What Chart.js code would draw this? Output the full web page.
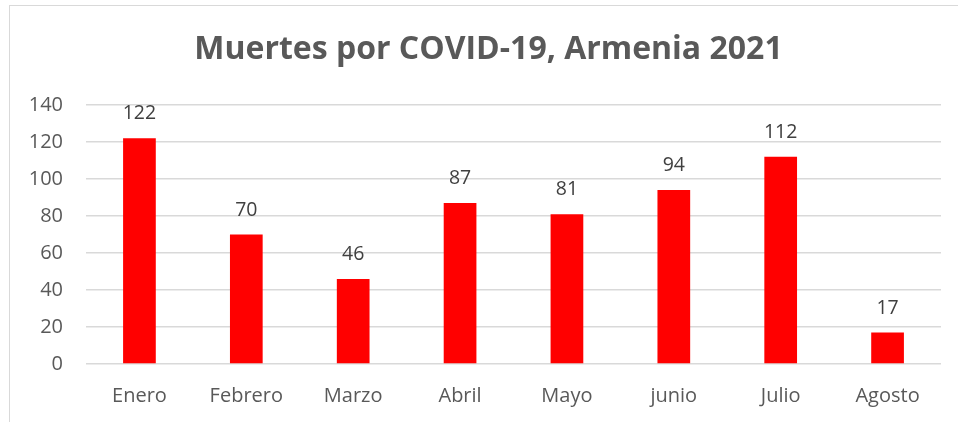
<!DOCTYPE html>
<html>
<head>
<meta charset="utf-8">
<script src="https://cdn.jsdelivr.net/npm/chart.js@4.4.1/dist/chart.umd.min.js"></script>
<style>
  html, body { margin: 0; padding: 0; background: #fff; }
  #wrap { position: relative; width: 958px; height: 422px; overflow: hidden; }
  #frame { position: absolute; left: 9px; top: 5px; width: 1000px; height: 500px; border: 1.5px solid #d9d9d9; box-sizing: border-box; }
  canvas { position: absolute; left: 0; top: 0; }
</style>
</head>
<body>
<div id="wrap">
  <div id="frame"></div>
  <canvas id="c" width="958" height="422"></canvas>
</div>
<script>
const titleText = "Muertes por COVID-19, Armenia 2021";
const categories = ["Enero", "Febrero", "Marzo", "Abril", "Mayo", "junio", "Julio", "Agosto"];
const deaths = [122, 70, 46, 87, 81, 94, 112, 17];
const yTicks = [0, 20, 40, 60, 80, 100, 120, 140];

const FONT = "'Open Sans', Lato, sans-serif";

const valueLabels = {
  id: 'valueLabels',
  afterDatasetsDraw(chart) {
    const ctx = chart.ctx;
    const meta = chart.getDatasetMeta(0);
    ctx.save();
    ctx.font = "19.5px " + FONT;
    ctx.fillStyle = "#404040";
    ctx.textAlign = "center";
    ctx.textBaseline = "alphabetic";
    meta.data.forEach((bar, i) => {
      ctx.fillText(String(deaths[i]), bar.x, bar.y - 19);
    });
    ctx.restore();
  }
};

new Chart(document.getElementById('c'), {
  type: 'bar',
  data: {
    labels: categories,
    datasets: [{
      data: deaths,
      backgroundColor: '#ff0000',
      borderWidth: 0,
      categoryPercentage: 1,
      barPercentage: 0.306,
      yAxisID: 'y'
    }]
  },
  options: {
    responsive: false,
    animation: false,
    devicePixelRatio: 1,
    layout: { padding: { left: 0, right: -19, top: 0, bottom: 0 } },
    plugins: {
      legend: { display: false },
      tooltip: { enabled: false },
      title: {
        display: true,
        text: titleText,
        color: '#595959',
        font: { family: FONT, size: 32, weight: 'bold', lineHeight: 1.2 },
        padding: { top: 31, bottom: 35.6 }
      }
    },
    scales: {
      x: {
        grid: { display: false },
        border: { display: false },
        ticks: { color: '#595959', font: { family: FONT, size: 20 }, padding: 12, maxRotation: 0 },
        afterFit(scale) { scale.height = 58; }
      },
      y: {
        min: 0, max: 140,
        afterBuildTicks(scale) { scale.ticks = yTicks.map(v => ({ value: v })); },
        grid: { color: '#d9d9d9', lineWidth: 1.5, drawTicks: false },
        border: { display: false },
        ticks: { color: '#595959', font: { family: FONT, size: 20 }, padding: 23 },
        afterFit(scale) { scale.width = 86; }
      },
      yRight: {
        type: 'linear',
        axis: 'y',
        position: 'right',
        min: 0, max: 140,
        grid: { display: false, drawTicks: false },
        border: { display: false },
        ticks: { display: false },
        afterFit(scale) { scale.width = 36; }
      }
    }
  },
  plugins: [valueLabels]
});
</script>
</body>
</html>
